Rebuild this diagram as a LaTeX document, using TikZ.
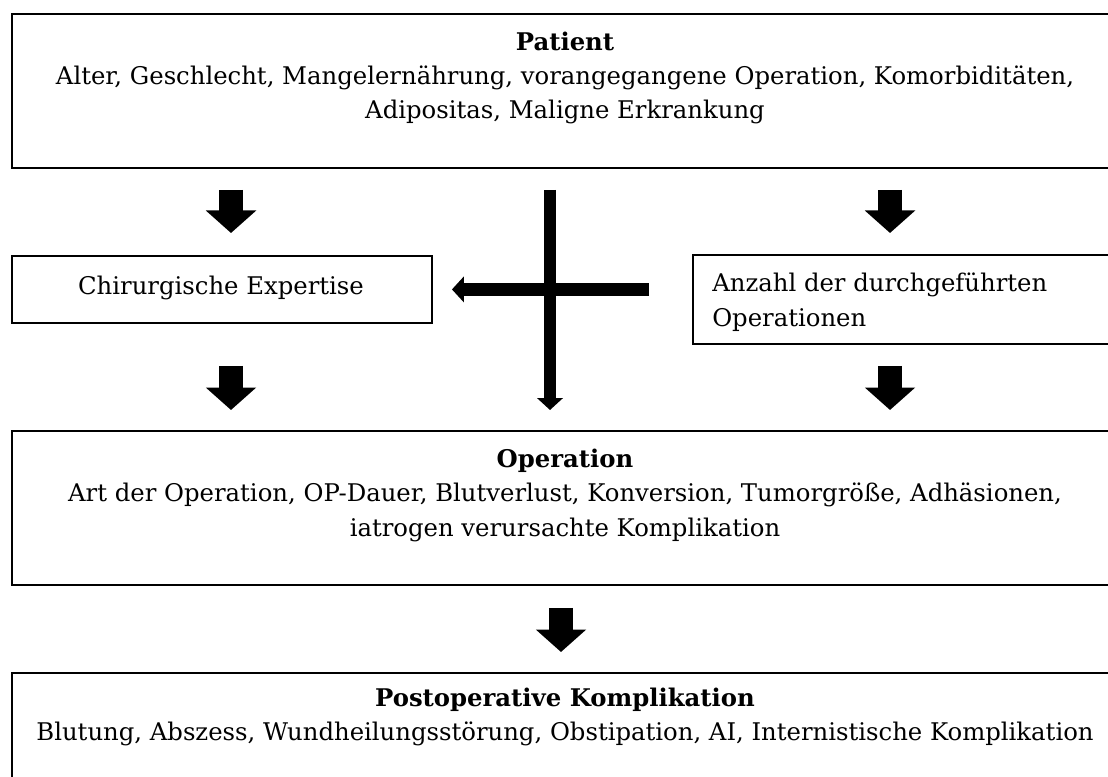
\documentclass[tikz,border=0pt]{standalone}
\usepackage{fontspec}
\setmainfont{DejaVu Serif}
\usetikzlibrary{arrows.meta}
\begin{document}
\begin{tikzpicture}[x=0.025cm, y=-0.025cm,
  box/.style={draw, line width=1.3pt, inner sep=0pt, anchor=north west},
  txt/.style={font=\fontsize{17.3}{24.5}\selectfont, align=center, inner sep=0pt},
  blockarr/.style={line width=17pt, -{Triangle[width=35pt, length=16pt]}},
  crossarr/.style={line width=9pt, -{Triangle[width=18pt, length=8.5pt]}}]
  \useasboundingbox (0,0) rectangle (1108,776);
  \clip (0,0) rectangle (1108,776);
  % boxes
  \node[box, minimum width=27.725cm, minimum height=3.85cm] (patient) at (11,13) {};
  \node[box, minimum width=10.5cm, minimum height=1.675cm] (chir) at (11,255) {};
  \node[box, minimum width=10.7cm, minimum height=2.225cm] (anzahl) at (692,254) {};
  \node[box, minimum width=27.725cm, minimum height=3.85cm] (operation) at (11,430) {};
  \node[box, minimum width=27.725cm, minimum height=3cm] (postop) at (11,672) {};
  % texts
  \node[txt] (patienttxt) at (565,78) {\textbf{Patient}\\Alter, Geschlecht, Mangelernährung, vorangegangene Operation, Komorbiditäten,\\Adipositas, Maligne Erkrankung};
  \node[txt] (chirtxt) at (221,288) {Chirurgische Expertise};
  \node[txt, align=left, anchor=west] (anzahltxt) at (712,302) {Anzahl der durchgeführten\\Operationen};
  \node[txt] (operationtxt) at (565,495) {\textbf{Operation}\\Art der Operation, OP-Dauer, Blutverlust, Konversion, Tumorgröße, Adhäsionen,\\iatrogen verursachte Komplikation};
  \node[txt] (postoptxt) at (565,717) {\textbf{Postoperative Komplikation}\\Blutung, Abszess, Wundheilungsstörung, Obstipation, AI, Internistische Komplikation};
  % arrows
  \coordinate (colL) at (231,0);
  \coordinate (colM) at (550,0);
  \coordinate (colR) at (890,0);
  \coordinate (colB) at (561,0);
  \draw[blockarr, shorten <=0.525cm, shorten >=0.55cm] (patient.south -| colL) -- (chir.north -| colL);
  \draw[blockarr, shorten <=0.525cm, shorten >=0.525cm] (patient.south -| colR) -- (anzahl.north -| colR);
  \draw[blockarr, shorten <=1.05cm, shorten >=0.5cm] (chir.south -| colL) -- (operation.north -| colL);
  \draw[blockarr, shorten <=0.525cm, shorten >=0.5cm] (anzahl.south -| colR) -- (operation.north -| colR);
  \draw[blockarr, shorten <=0.55cm, shorten >=0.5cm] (operation.south -| colB) -- (postop.north -| colB);
  \draw[crossarr, shorten <=0.525cm, shorten >=0.5cm] (patient.south -| colM) -- (operation.north -| colM);
  \draw[crossarr, shorten <=1.075cm, shorten >=0.475cm] (anzahl.west |- chir) -- (chir.east);
\end{tikzpicture}
\end{document}
